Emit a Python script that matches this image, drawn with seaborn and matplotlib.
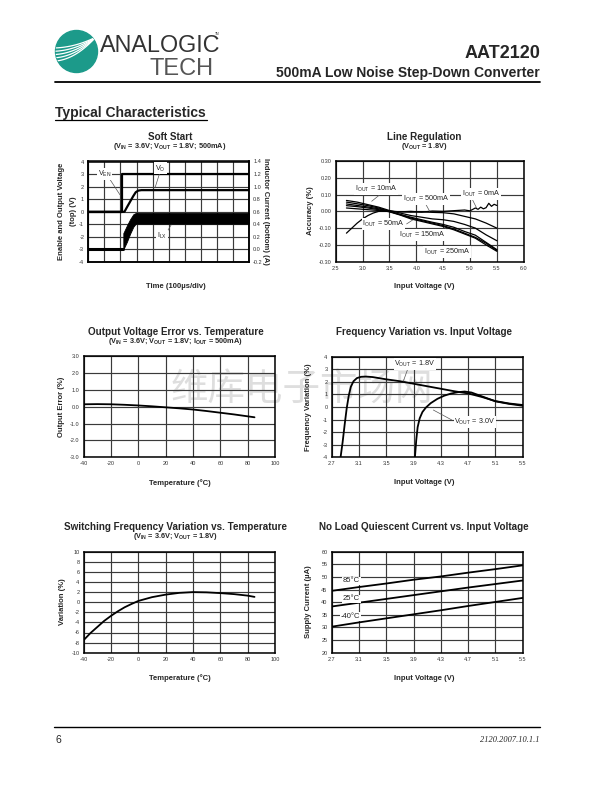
import numpy as np
import pandas as pd
import matplotlib
matplotlib.use('Agg')
import matplotlib.pyplot as plt
import seaborn as sns
from matplotlib.patches import Circle

# ---------------- data ----------------
# Soft start (time in divisions, 100us/div)
t_en = [0, 2.07, 2.07, 10]
v_en = [0, 0, 3, 3]
t_vo = [0, 2.25, 2.4, 2.6, 2.8, 2.95, 3.1, 3.3, 10]
v_vo = [0, 0, 0.35, 0.8, 1.25, 1.55, 1.68, 1.72, 1.72]
t_lx_pre = [0, 2.18]
i_lx_pre = [0, 0]
t_lx = [2.18, 2.18, 2.4, 2.6, 2.8, 2.95, 10]
i_lx_lo = [0, 0.0, 0.12, 0.25, 0.36, 0.41, 0.41]
i_lx_hi = [0, 0.26, 0.38, 0.48, 0.56, 0.58, 0.58]

# Line regulation
vin_lr = [2.7, 2.9, 3.1, 3.3, 3.5, 3.7, 3.9, 4.1, 4.3, 4.5, 4.7, 4.9, 5.1, 5.3, 5.5]
vin_0ma = [2.7, 2.9, 3.1, 3.3, 3.5, 3.7, 3.9, 4.1, 4.3, 4.5, 4.7, 4.9, 5.0, 5.1,
           5.15, 5.2, 5.25, 5.3, 5.35, 5.4, 5.45, 5.5]
acc_0ma = [0.02, 0.015, 0.01, 0.005, 0.0, -0.003, 0.0, -0.005, 0.002, 0.0, 0.004,
           0.008, 0.003, 0.02, 0.012, 0.025, 0.015, 0.022, 0.048, 0.03, 0.042, 0.035]
vin_500ma = [2.7, 2.8, 2.9, 3.0, 3.1, 3.2, 3.3, 3.5, 3.7, 3.9, 4.1, 4.3, 4.5, 4.7,
             4.9, 5.1, 5.3, 5.5]
acc_500ma = [-0.13, -0.10, -0.07, -0.045, -0.025, -0.01, 0.0, 0.002, -0.003, -0.005,
             -0.003, -0.006, -0.008, -0.015, -0.03, -0.045, -0.07, -0.10]
acc_10ma = [0.065, 0.055, 0.04, 0.025, 0.005, -0.01, -0.025, -0.035, -0.045, -0.05,
            -0.06, -0.078, -0.1, -0.14, -0.175]
acc_50ma = [0.055, 0.045, 0.034, 0.02, 0.0, -0.018, -0.035, -0.05, -0.065, -0.078,
            -0.095, -0.12, -0.142, -0.185, -0.228]
acc_150ma = [0.044, 0.035, 0.026, 0.015, 0.0, -0.02, -0.04, -0.055, -0.07, -0.085,
             -0.105, -0.13, -0.155, -0.19, -0.233]
acc_250ma = [0.034, 0.028, 0.02, 0.01, -0.003, -0.022, -0.045, -0.06, -0.075, -0.09,
             -0.11, -0.135, -0.16, -0.2, -0.238]

# Output voltage error vs temperature
temp_err = [-40, -30, -20, -10, 0, 10, 20, 30, 40, 50, 60, 70, 85]
out_err = [0.14, 0.15, 0.14, 0.11, 0.07, 0.02, -0.04, -0.1, -0.17, -0.26, -0.36, -0.46, -0.63]

# Frequency variation vs input voltage
vin_f18 = [2.83, 2.86, 2.89, 2.92, 2.95, 2.98, 3.02, 3.07, 3.13, 3.2, 3.3, 3.5, 3.7,
           3.9, 4.1, 4.3, 4.5, 4.7, 4.9, 5.1, 5.3, 5.5]
fvar_18 = [-4.0, -2.8, -1.4, -0.1, 0.9, 1.6, 2.05, 2.3, 2.4, 2.42, 2.38, 2.2, 2.05,
           1.85, 1.65, 1.45, 1.25, 1.08, 0.8, 0.47, 0.28, 0.16]
vin_f30 = [3.92, 3.94, 3.96, 3.99, 4.03, 4.08, 4.15, 4.25, 4.35, 4.45, 4.55, 4.65,
           4.75, 4.85, 4.95, 5.1, 5.3, 5.5]
fvar_30 = [-4.0, -2.6, -1.6, -0.9, -0.4, -0.05, 0.3, 0.65, 0.9, 1.07, 1.18, 1.23,
           1.15, 0.95, 0.75, 0.45, 0.25, 0.1]

# Switching frequency variation vs temperature
temp_sw = [-40, -35, -30, -25, -20, -15, -10, -5, 0, 10, 20, 30, 40, 50, 60, 70, 80, 85]
sw_var = [-7.5, -6.1, -4.9, -3.7, -2.7, -1.8, -1.0, -0.35, 0.25, 1.0, 1.5, 1.85, 2.0,
          1.95, 1.8, 1.6, 1.3, 1.05]

# No-load quiescent current vs input voltage
vin_q = [2.7, 3.1, 3.5, 3.9, 4.3, 4.7, 5.1, 5.5]
iq_85 = [44.5, 46.0, 47.4, 48.9, 50.2, 51.7, 53.1, 54.6]
iq_25 = [38.3, 39.8, 41.3, 42.8, 44.3, 45.8, 47.2, 48.6]
iq_m40 = [30.3, 32.0, 33.6, 35.2, 36.8, 38.5, 40.1, 41.7]

# tick values / labels
ss_yt = [-4, -3, -2, -1, 0, 1, 2, 3, 4]
ss_yt_r = [-0.2, 0.0, 0.2, 0.4, 0.6, 0.8, 1.0, 1.2, 1.4]
ss_xt = list(range(0, 11))
lr_xt = [2.5, 3.0, 3.5, 4.0, 4.5, 5.0, 5.5, 6.0]
lr_yt = [-0.3, -0.2, -0.1, 0.0, 0.1, 0.2, 0.3]
temp_xt = [-40, -20, 0, 20, 40, 60, 80, 100]
err_yt = [-3, -2, -1, 0, 1, 2, 3]
vin_xt = [2.7, 3.1, 3.5, 3.9, 4.3, 4.7, 5.1, 5.5]
fv_yt = [-4, -3, -2, -1, 0, 1, 2, 3, 4]
sw_yt = [-10, -8, -6, -4, -2, 0, 2, 4, 6, 8, 10]
iq_yt = [20, 25, 30, 35, 40, 45, 50, 55, 60]

# ---------------- style ----------------
sns.set_theme(style='white')
plt.rcParams['font.family'] = ['Liberation Sans', 'DejaVu Sans']
plt.rcParams['axes.unicode_minus'] = False
plt.rcParams['mathtext.default'] = 'regular'

W, H = 612, 792
fig = plt.figure(figsize=(W / 100, H / 100), dpi=100)
fig.patch.set_facecolor('white')

ov = fig.add_axes([0, 0, 1, 1], zorder=-5)
ov.set_xlim(0, W)
ov.set_ylim(H, 0)
ov.axis('off')

GRID = '#3a3a3a'
LBL = 5.5
TICK = 4


def px_axes(x0, y0, x1, y1):
    ax = fig.add_axes([x0 / W, 1 - y1 / H, (x1 - x0) / W, (y1 - y0) / H])
    ax.set_facecolor('none')
    return ax


def style(ax, xlim, ylim, xt, yt, xtl, ytl):
    ax.set_xlim(*xlim)
    ax.set_ylim(*ylim)
    ax.set_xticks(xt)
    ax.set_yticks(yt)
    ax.set_xticklabels(xtl)
    ax.set_yticklabels(ytl)
    ax.tick_params(length=0, labelsize=TICK, pad=3, colors='#333333')
    ax.grid(True, color=GRID, lw=0.85)
    for s in ax.spines.values():
        s.set_visible(True)
        s.set_color('black')
        s.set_linewidth(1.1)
    ax.set_xlabel('')
    ax.set_ylabel('')


def line(ax, x, y, lw=1.2):
    sns.lineplot(x=x, y=y, ax=ax, color='black', lw=lw, estimator=None, sort=False)


def tag(ax, x, y, s, fs=5.2):
    ax.text(x, y, s, fontsize=fs, ha='center', va='center', zorder=6, color='#222222',
            bbox=dict(fc='white', ec='none', pad=0.6))


def lead(ax, p0, p1):
    ax.annotate('', xy=p1, xytext=p0,
                arrowprops=dict(arrowstyle='-', lw=0.5, color='#555555', shrinkA=0, shrinkB=0),
                zorder=5)


def title(x, y, t, sub=None):
    ov.text(x, y, t, ha='center', va='center', fontsize=7.1, weight='bold')
    if sub:
        ov.text(x, y + 9.5, sub, ha='center', va='center', fontsize=5.3, weight='bold')


def xlabel(x, y, t):
    ov.text(x, y, t, ha='center', va='center', fontsize=LBL, weight='bold')


def ylabel(x, y, t, rot=90):
    ov.text(x, y, t, ha='center', va='center', fontsize=LBL, weight='bold', rotation=rot)


# ---------------- header / footer ----------------
logo = Circle((76.5, 51.5), 21, color='#1c9a8a', zorder=2)
ov.add_patch(logo)
xs = np.linspace(52, 100, 60)
for i in range(5):
    ys = 48 + 3.3 * i - (13 + 4 * i) * ((xs - 52) / 48) ** 2
    ln, = ov.plot(xs, ys, color='white', lw=0.9, zorder=3)
    ln.set_clip_path(logo)
ov.text(100, 51.5, 'ANALOGIC', fontsize=16.8, color='#333333', va='baseline', ha='left')
ov.text(214, 75, 'TECH', fontsize=17, color='#555555', va='baseline', ha='right', weight='light')
ov.text(215, 34, 'TM', fontsize=2.3, color='#333333', va='center', ha='left')

ov.text(540, 53, 'AAT2120', ha='right', va='center', fontsize=13, weight='bold')
ov.text(540, 73, '500mA Low Noise Step-Down Converter', ha='right', va='center',
        fontsize=10, weight='bold')
ov.plot([55, 540], [81.5, 81.5], color='black', lw=1.3)
ov.text(55, 117, 'Typical Characteristics', ha='left', va='baseline', fontsize=10, weight='bold')
ov.plot([55, 207], [119.8, 119.8], color='black', lw=0.9)

ov.plot([54, 540], [727, 727], color='black', lw=1.0)
ov.text(55, 740, '6', ha='left', va='center', fontsize=7.5)
ov.text(540, 740, '2120.2007.10.1.1', ha='right', va='center', fontsize=6,
        family=['Liberation Serif', 'DejaVu Serif'], style='italic')

# watermark
ov.text(302, 390, '维库电子市场网', fontsize=27, color='#dedede', ha='center', va='center',
        family=['Noto Sans CJK SC', 'DejaVu Sans'], zorder=0)

# ---------------- 1. Soft start ----------------
ax1 = px_axes(88.3, 161.5, 249, 262)
line(ax1, t_en, v_en, lw=1.6)
line(ax1, t_vo, v_vo, lw=1.6)
style(ax1, (0, 10), (-4, 4), ss_xt, ss_yt, [''] * len(ss_xt), [str(v) for v in ss_yt])
ax1b = ax1.twinx()
ax1b.fill_between(t_lx, i_lx_lo, i_lx_hi, color='black', lw=0.6)
line(ax1b, t_lx_pre, i_lx_pre, lw=2.2)
ax1b.set_ylim(-0.2, 1.4)
ax1b.set_yticks(ss_yt_r)
ax1b.set_yticklabels([f'{v:.1f}' for v in ss_yt_r])
ax1b.tick_params(length=0, labelsize=TICK, pad=3, colors='#333333')
ax1b.grid(False)
ax1b.set_ylabel('')
for s in ax1b.spines.values():
    s.set_visible(True)
    s.set_color('black')
    s.set_linewidth(1.1)
tag(ax1, 1.0, 3.0, '$V_{EN}$')
lead(ax1, (1.36, 2.55), (1.97, 1.35))
tag(ax1, 4.5, 3.45, '$V_{O}$')
lead(ax1, (4.46, 3.15), (4.15, 1.9))
tag(ax1, 4.57, -1.95, '$I_{LX}$')
lead(ax1, (4.85, -1.7), (5.2, -0.95))
title(170, 137, 'Soft Start', '(V$_{IN}$ = 3.6V; V$_{OUT}$ = 1.8V; 500mA)')
xlabel(176, 287, 'Time (100\u00b5s/div)')
ylabel(61.7, 211, 'Enable and Output Voltage')
ylabel(73.3, 211, '(top) (V)')
ylabel(266, 211, 'Inductor Current (bottom) (A)', rot=270)

# ---------------- 2. Line regulation ----------------
ax2 = px_axes(335.7, 161, 523.7, 261.7)
line(ax2, vin_0ma, acc_0ma, lw=0.9)
line(ax2, vin_500ma, acc_500ma, lw=0.9)
line(ax2, vin_lr, acc_10ma, lw=0.9)
line(ax2, vin_lr, acc_50ma, lw=0.9)
line(ax2, vin_lr, acc_150ma, lw=0.9)
line(ax2, vin_lr, acc_250ma, lw=0.9)
style(ax2, (2.5, 6.0), (-0.3, 0.3), lr_xt, lr_yt,
      [f'{v:.1f}' for v in lr_xt], [f'{v:.2f}' for v in lr_yt])
tag(ax2, 3.25, 0.133, '$I_{OUT}$ = 10mA')
lead(ax2, (3.39, 0.117), (3.17, 0.06))
tag(ax2, 4.19, 0.072, '$I_{OUT}$ = 500mA')
lead(ax2, (4.16, 0.052), (4.25, 0.0))
tag(ax2, 5.2, 0.103, '$I_{OUT}$ = 0mA')
lead(ax2, (5.03, 0.08), (5.12, 0.022))
tag(ax2, 3.39, -0.075, '$I_{OUT}$ = 50mA')
lead(ax2, (3.82, -0.075), (3.94, -0.05))
tag(ax2, 4.1, -0.141, '$I_{OUT}$ = 150mA')
lead(ax2, (4.47, -0.131), (4.55, -0.1))
tag(ax2, 4.57, -0.244, '$I_{OUT}$ = 250mA')
title(424, 137, 'Line Regulation', '(V$_{OUT}$ = 1.8V)')
xlabel(424, 287, 'Input Voltage (V)')
ylabel(310, 211, 'Accuracy (%)')

# ---------------- 3. Output voltage error ----------------
ax3 = px_axes(83.7, 356, 275, 457.3)
line(ax3, temp_err, out_err, lw=1.3)
style(ax3, (-40, 100), (-3, 3), temp_xt, err_yt,
      [str(v) for v in temp_xt], [f'{v:.1f}' for v in err_yt])
title(175.5, 332, 'Output Voltage Error vs. Temperature',
      '(V$_{IN}$ = 3.6V; V$_{OUT}$ = 1.8V; I$_{OUT}$ = 500mA)')
xlabel(180, 483, 'Temperature (\u00b0C)')
ylabel(61.7, 406.7, 'Output Error (%)')

# ---------------- 4. Frequency variation ----------------
ax4 = px_axes(331.7, 356.7, 522.7, 457.3)
line(ax4, vin_f18, fvar_18, lw=1.3)
line(ax4, vin_f30, fvar_30, lw=1.3)
style(ax4, (2.7, 5.5), (-4, 4), vin_xt, fv_yt,
      [f'{v:.1f}' for v in vin_xt], [str(v) for v in fv_yt])
tag(ax4, 3.92, 3.45, '$V_{OUT}$ = 1.8V')
lead(ax4, (3.82, 3.1), (3.75, 2.05))
tag(ax4, 4.8, -1.17, '$V_{OUT}$ = 3.0V')
lead(ax4, (4.46, -1.03), (4.19, -0.24))
title(424, 332, 'Frequency Variation vs. Input Voltage')
xlabel(424, 483, 'Input Voltage (V)')
ylabel(308, 407, 'Frequency Variation (%)')

# ---------------- 5. Switching frequency variation ----------------
ax5 = px_axes(83.7, 551.7, 275, 652.7)
line(ax5, temp_sw, sw_var, lw=1.3)
style(ax5, (-40, 100), (-10, 10), temp_xt, sw_yt,
      [str(v) for v in temp_xt], [str(v) for v in sw_yt])
title(175.5, 527, 'Switching Frequency Variation vs. Temperature',
      '(V$_{IN}$ = 3.6V; V$_{OUT}$ = 1.8V)')
xlabel(180, 678, 'Temperature (\u00b0C)')
ylabel(62, 602, 'Variation (%)')

# ---------------- 6. Quiescent current ----------------
ax6 = px_axes(331.7, 551.7, 522.7, 652.7)
line(ax6, vin_q, iq_85, lw=1.3)
line(ax6, vin_q, iq_25, lw=1.3)
line(ax6, vin_q, iq_m40, lw=1.3)
style(ax6, (2.7, 5.5), (20, 60), vin_xt, iq_yt,
      [f'{v:.1f}' for v in vin_xt], [str(v) for v in iq_yt])
tag(ax6, 2.99, 48.4, '85\u00b0C', fs=5.5)
tag(ax6, 2.99, 41.3, '25\u00b0C', fs=5.5)
tag(ax6, 2.97, 34.3, '-40\u00b0C', fs=5.5)
title(424, 527, 'No Load Quiescent Current vs. Input Voltage')
xlabel(424, 678, 'Input Voltage (V)')
ylabel(308, 602, 'Supply Current (\u00b5A)')

fig.savefig('out.png', dpi=100, facecolor='white')
